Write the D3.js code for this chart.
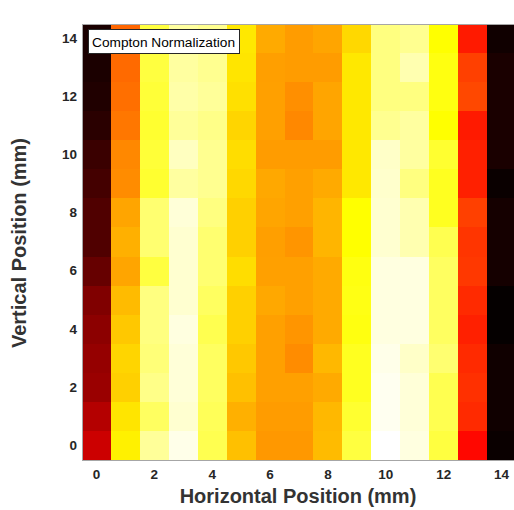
<!DOCTYPE html>
<html>
<head>
<meta charset="utf-8">
<script src="https://cdn.jsdelivr.net/npm/d3@7"></script>
<style>
  html, body { margin: 0; padding: 0; background: #fff; overflow: hidden; }
  svg { display: block; font-family: "Liberation Sans", Arial, Helvetica, sans-serif; }
</style>
</head>
<body>
<div id="chart"></div>
<script>
// Horizontal / vertical positions (mm)
const xPositions = [0, 1, 2, 3, 4, 5, 6, 7, 8, 9, 10, 11, 12, 13, 14];
const yPositions = [0, 1, 2, 3, 4, 5, 6, 7, 8, 9, 10, 11, 12, 13, 14];
const xTickValues = [0, 2, 4, 6, 8, 10, 12, 14];
const yTickValues = [0, 2, 4, 6, 8, 10, 12, 14];

// Normalized intensity, one row per vertical position, listed top (14) to bottom (0)
const row14 = [0.038, 0.525, 0.813, 0.907, 0.891, 0.716, 0.625, 0.604, 0.618, 0.693, 0.875, 0.891, 0.750, 0.413, 0.024];
const row13 = [0.040, 0.531, 0.813, 0.907, 0.891, 0.712, 0.609, 0.604, 0.604, 0.716, 0.875, 0.923, 0.766, 0.469, 0.038];
const row12 = [0.047, 0.538, 0.805, 0.915, 0.900, 0.704, 0.610, 0.585, 0.618, 0.716, 0.875, 0.875, 0.766, 0.481, 0.038];
const row11 = [0.062, 0.550, 0.797, 0.900, 0.883, 0.688, 0.610, 0.575, 0.618, 0.716, 0.891, 0.907, 0.750, 0.413, 0.038];
const row10 = [0.085, 0.575, 0.805, 0.938, 0.891, 0.700, 0.604, 0.604, 0.604, 0.716, 0.946, 0.907, 0.797, 0.422, 0.038];
const row9  = [0.100, 0.581, 0.797, 0.907, 0.891, 0.693, 0.622, 0.610, 0.625, 0.716, 0.950, 0.875, 0.781, 0.422, 0.015];
const row8  = [0.118, 0.618, 0.860, 0.962, 0.875, 0.681, 0.618, 0.610, 0.641, 0.750, 0.954, 0.923, 0.781, 0.469, 0.031];
const row7  = [0.118, 0.634, 0.860, 0.954, 0.860, 0.681, 0.609, 0.594, 0.641, 0.750, 0.954, 0.923, 0.828, 0.453, 0.031];
const row6  = [0.150, 0.618, 0.813, 0.954, 0.860, 0.700, 0.610, 0.610, 0.625, 0.766, 0.970, 0.970, 0.844, 0.457, 0.031];
const row5  = [0.188, 0.650, 0.875, 0.954, 0.844, 0.681, 0.622, 0.610, 0.625, 0.770, 0.970, 0.970, 0.844, 0.437, 0.008];
const row4  = [0.206, 0.669, 0.875, 0.970, 0.828, 0.681, 0.610, 0.594, 0.625, 0.766, 0.970, 0.970, 0.844, 0.422, 0.008];
const row3  = [0.219, 0.688, 0.868, 0.962, 0.844, 0.669, 0.610, 0.581, 0.646, 0.781, 0.978, 0.946, 0.860, 0.437, 0.024];
const row2  = [0.226, 0.681, 0.883, 0.962, 0.844, 0.657, 0.610, 0.610, 0.625, 0.781, 0.985, 0.962, 0.828, 0.446, 0.024];
const row1  = [0.265, 0.712, 0.844, 0.954, 0.836, 0.634, 0.604, 0.604, 0.646, 0.797, 0.985, 0.962, 0.828, 0.437, 0.024];
const row0  = [0.300, 0.730, 0.900, 0.978, 0.828, 0.657, 0.599, 0.599, 0.650, 0.813, 1.000, 0.970, 0.813, 0.385, 0.015];
const rowsTopDown = [row14, row13, row12, row11, row10, row9, row8, row7, row6, row5, row4, row3, row2, row1, row0];

const legendLabel = 'Compton Normalization';

const W = 514, H = 510;
const margin = { top: 24, right: -2, bottom: 50, left: 82 };
const width = W - margin.left - margin.right;
const height = H - margin.top - margin.bottom;

const svg = d3.select('#chart').append('svg')
  .attr('width', W)
  .attr('height', H);

const g = svg.append('g')
  .attr('transform', 'translate(' + margin.left + ',' + margin.top + ')');

const x = d3.scaleBand().domain(xPositions).range([0, width]).padding(0);
const y = d3.scaleBand().domain(yPositions).range([height, 0]).padding(0);

// MATLAB "hot" colormap: black -> red -> yellow -> white
const color = d3.scaleLinear()
  .domain([0, 0.375, 0.75, 1])
  .range(['#000000', '#ff0000', '#ffff00', '#ffffff'])
  .clamp(true);

const cells = [];
rowsTopDown.forEach(function (row, i) {
  const yv = yPositions[yPositions.length - 1 - i];
  row.forEach(function (v, j) {
    cells.push({ x: xPositions[j], y: yv, v: v });
  });
});

g.selectAll('rect.cell')
  .data(cells)
  .enter().append('rect')
  .attr('class', 'cell')
  .attr('x', function (d) { return x(d.x); })
  .attr('y', function (d) { return y(d.y); })
  .attr('width', x.bandwidth() + 0.5)
  .attr('height', y.bandwidth() + 0.5)
  .attr('fill', function (d) { return color(d.v); })
  .attr('shape-rendering', 'crispEdges');

// axes box
g.append('rect')
  .attr('x', 0).attr('y', 0)
  .attr('width', width).attr('height', height)
  .attr('fill', 'none')
  .attr('stroke', '#a6a6a6')
  .attr('stroke-width', 1)
  .attr('shape-rendering', 'crispEdges');

const xAxis = g.append('g')
  .attr('transform', 'translate(0,' + height + ')')
  .call(d3.axisBottom(x).tickValues(xTickValues).tickSize(0).tickPadding(9));

const yAxis = g.append('g')
  .call(d3.axisLeft(y).tickValues(yTickValues).tickSize(0).tickPadding(5));

[xAxis, yAxis].forEach(function (ax) {
  ax.select('.domain').remove();
  ax.selectAll('text')
    .attr('fill', '#262626')
    .attr('font-size', '13.5px')
    .attr('font-weight', 'bold')
    .attr('font-family', '"Liberation Sans", Arial, Helvetica, sans-serif');
});

// axis titles
svg.append('text')
  .attr('x', margin.left + 216)
  .attr('y', 503)
  .attr('text-anchor', 'middle')
  .attr('fill', '#333333')
  .attr('font-size', '20px')
  .attr('font-weight', 'bold')
  .text('Horizontal Position (mm)');

svg.append('text')
  .attr('transform', 'translate(26,' + (margin.top + height / 2 + 1) + ') rotate(-90)')
  .attr('text-anchor', 'middle')
  .attr('fill', '#333333')
  .attr('font-size', '20px')
  .attr('font-weight', 'bold')
  .text('Vertical Position (mm)');

// legend box
const legend = g.append('g').attr('transform', 'translate(6,5.5)');
const legendText = legend.append('text')
  .attr('x', 4)
  .attr('y', 17)
  .attr('fill', '#000')
  .attr('font-size', '13.7px')
  .text(legendLabel);
const bb = legendText.node().getBBox();
legend.insert('rect', 'text')
  .attr('x', 0).attr('y', 0)
  .attr('width', bb.width + 8)
  .attr('height', 24)
  .attr('fill', '#fff')
  .attr('stroke', '#262626')
  .attr('stroke-width', 1)
  .attr('shape-rendering', 'crispEdges');
</script>
</body>
</html>
